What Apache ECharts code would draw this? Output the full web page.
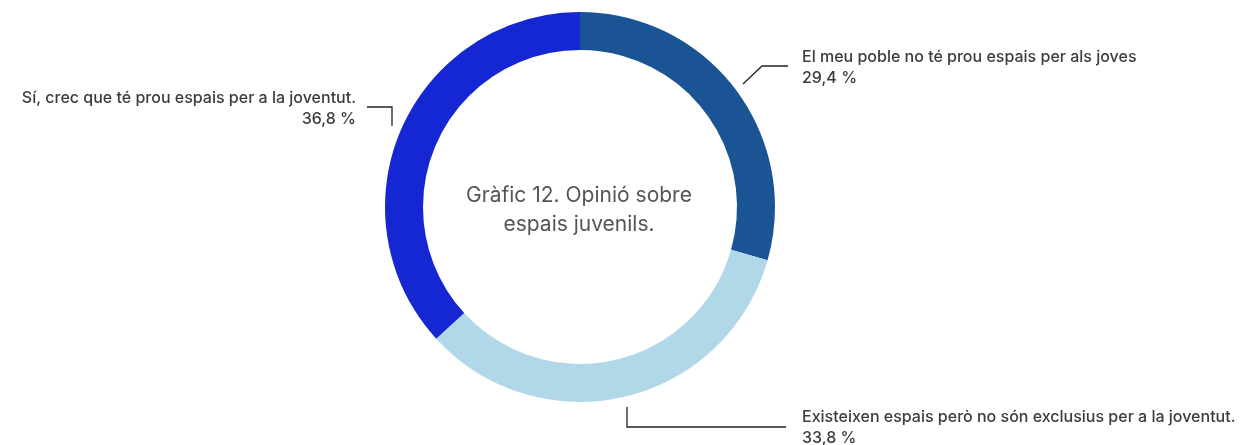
<!DOCTYPE html>
<html>
<head>
<meta charset="utf-8">
<script src="https://cdn.jsdelivr.net/npm/echarts@6/dist/echarts.min.js"></script>
<style>
  html, body { margin: 0; padding: 0; background: #fff; }
  #chart { width: 1260px; height: 445px; }
</style>
</head>
<body>
<div id="chart"></div>
<script>
// dades del gràfic 12
const categories = [
  'El meu poble no té prou espais per als joves',
  'Existeixen espais però no són exclusius per a la joventut.',
  'Sí, crec que té prou espais per a la joventut.',
];
const values = [29.4, 33.8, 36.8];
const colors = ['#1a5494', '#b1d8e9', '#1427d3'];
const titleText = 'Gràfic 12. Opinió sobre\nespais juvenils.';

// on va cada etiqueta (x, y, alineació, punts de la línia)
const labelPos = [
  { x: 802, y: 68, align: 'left', line: [[743, 84], [762, 66], [788, 66]] },
  { x: 802, y: 428, align: 'left', line: [[627, 407], [627, 427], [786, 427]] },
  { x: 356, y: 109, align: 'right', line: [[392, 126], [392, 107], [367, 107]] },
];

const chart = echarts.init(document.getElementById('chart'));

chart.setOption({
  animation: false,
  textStyle: { fontFamily: 'Inter, "Noto Sans", sans-serif' },
  title: {
    text: titleText,
    left: 574,
    top: 176,
    textAlign: 'center',
    textStyle: { fontSize: 21, fontWeight: 'normal', color: '#555', lineHeight: 29 },
  },
  series: [{
    type: 'pie',
    center: [580, 207],
    radius: [157, 195],
    startAngle: 90,
    clockwise: true,
    data: categories.map((name, i) => ({
      name, value: values[i], itemStyle: { color: colors[i] },
    })),
    label: {
      show: true,
      formatter: (p) => `${p.name}\n${p.value.toFixed(1).replace('.', ',')} %`,
      fontSize: 16,
      fontWeight: 500,
      color: '#3c3c3c',
      lineHeight: 21,
    },
    labelLine: { show: true, lineStyle: { color: '#222', width: 1.3 } },
    labelLayout: (params) => {
      const p = labelPos[params.dataIndex];
      return {
        x: p.x, y: p.y, align: p.align, verticalAlign: 'middle',
        labelLinePoints: p.line,
      };
    },
    emphasis: { disabled: true },
  }],
});
</script>
</body>
</html>
